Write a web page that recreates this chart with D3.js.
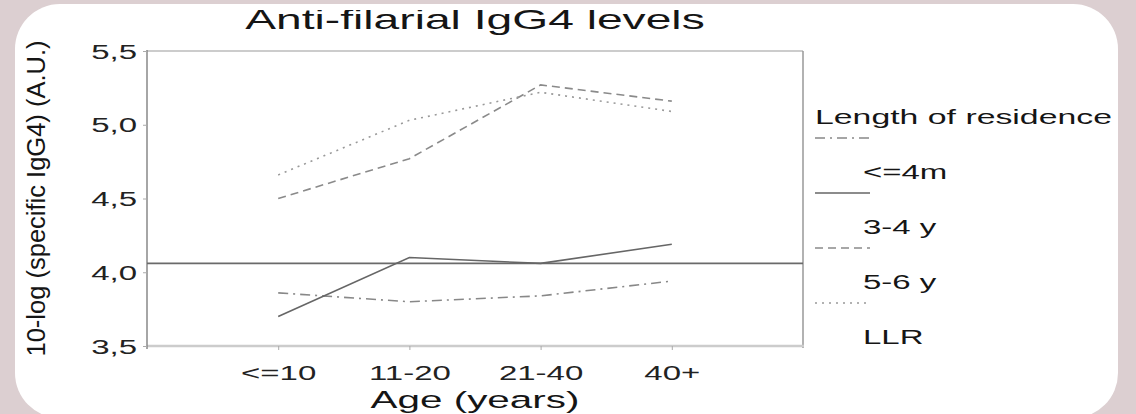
<!DOCTYPE html>
<html>
<head>
<meta charset="utf-8">
<script src="https://cdn.jsdelivr.net/npm/d3@7"></script>
<style>
  body { margin: 0; background: #dccfd1; }
  svg { display: block; }
  text { font-family: "Liberation Sans", Arial, sans-serif; fill: #151515; }
</style>
</head>
<body>
<div id="chart"></div>
<script>
const width = 1136
const height = 414

// data
const ageGroups = ["<=10", "11-20", "21-40", "40+"]
const residence = ["<=4m", "3-4 y", "5-6 y", "LLR"]
const lenUpTo4m = [3.86, 3.80, 3.84, 3.94]
const len3to4y = [3.70, 4.10, 4.06, 4.19]
const len5to6y = [4.50, 4.77, 5.27, 5.16]
const lenLLR = [4.66, 5.03, 5.22, 5.09]
const refLevel = 4.06
const yTicks = [3.5, 4.0, 4.5, 5.0, 5.5]

const seriesValues = [lenUpTo4m, len3to4y, len5to6y, lenLLR]
const dashes = ["10,5,2,5", null, "8,5", "2,5"]
const strokes = ["#888", "#666", "#8a8a8a", "#999"]

const sx = 1.65  // the picture is stretched sideways

const margin = { top: 51, right: 333, bottom: 68, left: 147 }

const svg = d3.select("#chart")
  .append("svg")
    .attr("width", width)
    .attr("height", height)

svg.append("rect")
  .attr("x", 15).attr("y", 4)
  .attr("width", 1103).attr("height", 414)
  .attr("rx", 45)
  .attr("fill", "#fff")

// the scanned title is cut off at the top
svg.append("clipPath").attr("id", "titleClip")
  .append("rect").attr("x", 0).attr("y", 10).attr("width", width).attr("height", 40)

const x = d3.scalePoint()
  .domain(ageGroups)
  .range([margin.left, width - margin.right])
  .padding(1)

const y = d3.scaleLinear()
  .domain([3.5, 5.5])
  .range([height - margin.bottom, margin.top])

const x0 = margin.left, x1 = width - margin.right
const y0 = height - margin.bottom, y1 = margin.top

// frame
svg.append("line").attr("x1", x0).attr("x2", x1).attr("y1", y1).attr("y2", y1)
  .attr("stroke", "#bbb").attr("stroke-width", 1.5)
svg.append("line").attr("x1", x1).attr("x2", x1).attr("y1", y1).attr("y2", y0 + 2)
  .attr("stroke", "#999").attr("stroke-width", 1.5)
svg.append("line").attr("x1", x0).attr("x2", x1 + 1).attr("y1", y0).attr("y2", y0)
  .attr("stroke", "#ccc").attr("stroke-width", 2.5)

// y axis
const yAxis = svg.append("g")
  .attr("transform", "translate(" + x0 + ",0)")
  .call(d3.axisLeft(y).tickValues(yTicks).tickSize(4).tickSizeOuter(0)
    .tickFormat(d => d3.format(".1f")(d).replace(".", ",")))
yAxis.select(".domain").attr("stroke", "#888").attr("stroke-width", 1.5)
  .attr("d", "M0," + (y1 - 1) + "V" + (y0 + 3))
yAxis.selectAll(".tick line").attr("stroke", "#aaa")
yAxis.selectAll(".tick text")
  .attr("x", null).attr("dy", "0.36em")
  .attr("transform", "translate(-10,0) scale(" + sx + ",1)")
  .style("font-size", "20px")
  .style("fill", "#222")

// x axis
const xAxis = svg.append("g")
  .attr("transform", "translate(0," + y0 + ")")
  .call(d3.axisBottom(x).tickSize(4).tickSizeOuter(0))
xAxis.select(".domain").remove()
xAxis.selectAll(".tick line").attr("stroke", "#aaa")
xAxis.selectAll(".tick text")
  .attr("y", null).attr("dy", null)
  .attr("transform", "translate(0,34) scale(" + sx + ",1)")
  .style("font-size", "20px")
  .style("fill", "#222")

// reference line
svg.append("line")
  .attr("x1", x0).attr("x2", x1)
  .attr("y1", y(refLevel)).attr("y2", y(refLevel))
  .attr("stroke", "#6a6a6a").attr("stroke-width", 1.6)

const line = d3.line()
  .x((d, i) => x(ageGroups[i]))
  .y(d => y(d))

svg.selectAll(".series")
  .data(seriesValues)
  .enter()
  .append("path")
    .attr("class", "series")
    .attr("d", d => line(d))
    .attr("fill", "none")
    .attr("stroke", (d, i) => strokes[i])
    .attr("stroke-width", 1.6)
    .attr("stroke-dasharray", (d, i) => dashes[i])

// titles
svg.append("g").attr("clip-path", "url(#titleClip)")
  .append("text")
  .attr("transform", "translate(" + (x0 + x1) / 2 + ",29) scale(" + sx + ",1)")
  .attr("text-anchor", "middle")
  .style("font-size", "28px")
  .text("Anti-filarial IgG4 levels")

svg.append("text")
  .attr("transform", "translate(" + (x0 + x1) / 2 + ",408) scale(" + sx + ",1)")
  .attr("text-anchor", "middle")
  .style("font-size", "24.5px")
  .text("Age (years)")

svg.append("text")
  .attr("transform", "translate(45," + (y0 + y1) / 2 + ") rotate(-90)")
  .attr("text-anchor", "middle")
  .attr("textLength", 316)
  .attr("lengthAdjust", "spacingAndGlyphs")
  .style("font-size", "26px")
  .text("10-log (specific IgG4) (A.U.)")

// legend
const legend = svg.append("g").attr("transform", "translate(815,0)")
legend.append("text")
  .attr("transform", "translate(0,124) scale(" + sx + ",1)")
  .style("font-size", "20.5px")
  .text("Length of residence")

const items = legend.selectAll(".item")
  .data(residence)
  .enter()
  .append("g")
    .attr("class", "item")
    .attr("transform", (d, i) => "translate(0," + (138 + i * 55) + ")")

items.append("line")
  .attr("x1", 0).attr("x2", 55)
  .attr("stroke", (d, i) => strokes[i])
  .attr("stroke-width", 1.4)
  .attr("stroke-dasharray", (d, i) => dashes[i])

items.append("text")
  .attr("transform", "translate(48,41) scale(" + sx + ",1)")
  .style("font-size", "20px")
  .text(d => d)
</script>
</body>
</html>
